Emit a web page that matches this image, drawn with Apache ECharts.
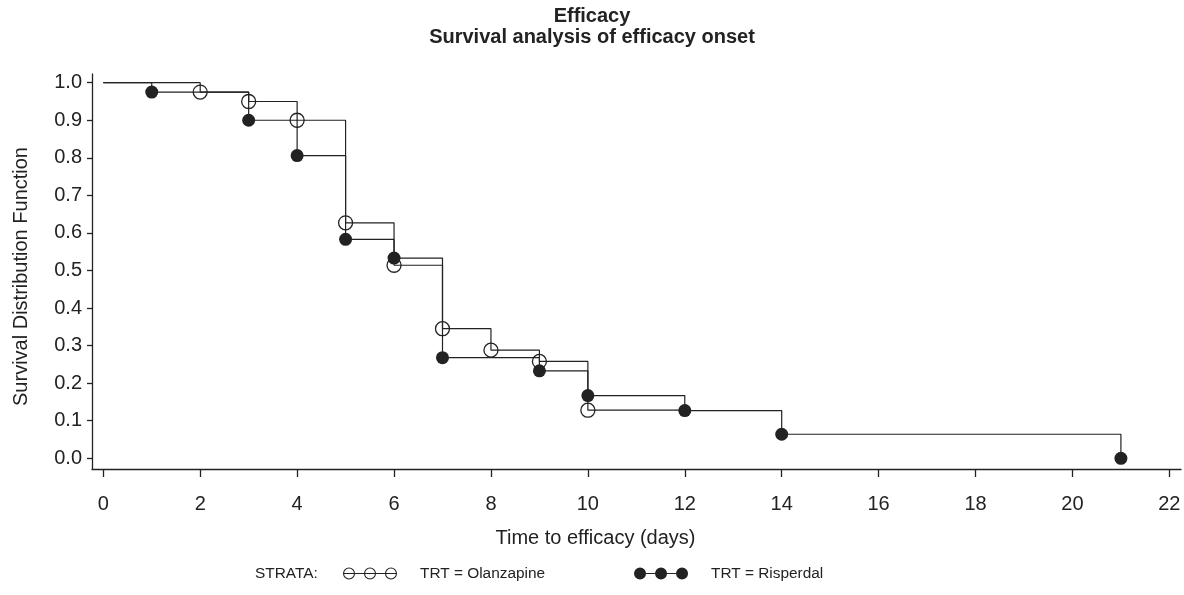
<!DOCTYPE html>
<html>
<head>
<meta charset="utf-8">
<script src="https://cdn.jsdelivr.net/npm/echarts@6/dist/echarts.min.js"></script>
<style>
  html, body { margin: 0; padding: 0; background: #fff; }
  #chart { width: 1184px; height: 595px; }
</style>
</head>
<body>
<div id="chart"></div>
<script>
// Kaplan-Meier estimates
const olzTimes = [0, 2, 3, 4, 5, 6, 7, 8, 9, 10, 12]
const olzSurv = [1, 0.975, 0.95, 0.9, 0.627, 0.514, 0.345, 0.288, 0.258, 0.128, 0.128]
const risTimes = [0, 1, 3, 4, 5, 6, 7, 9, 10, 12, 14, 21]
const risSurv = [1, 0.975, 0.9, 0.806, 0.583, 0.533, 0.268, 0.233, 0.167, 0.127, 0.064, 0]

const xTicks = [0, 2, 4, 6, 8, 10, 12, 14, 16, 18, 20, 22]
const yTicks = [0, 0.1, 0.2, 0.3, 0.4, 0.5, 0.6, 0.7, 0.8, 0.9, 1.0]

const ink = '#222'
const font = 'Liberation Sans'

const olzData = olzTimes.map((t, i) => [t, olzSurv[i]])
const risData = risTimes.map((t, i) => [t, risSurv[i]])

// legend glyphs: three circles strung on a line
const ring = (cx) => `M${cx - 6} 6 A6 6 0 1 1 ${cx + 6} 6 A6 6 0 1 1 ${cx - 6} 6 Z ` +
  `M${cx - 4.9} 6 A4.9 4.9 0 1 0 ${cx + 4.9} 6 A4.9 4.9 0 1 0 ${cx - 4.9} 6 Z `
const dot = (cx) => `M${cx - 6} 6 A6 6 0 1 1 ${cx + 6} 6 A6 6 0 1 1 ${cx - 6} 6 Z `
const bar = 'M0 5.5 L54 5.5 L54 6.5 L0 6.5 Z'
const olzIcon = 'path://' + ring(6) + ring(27) + ring(48) + bar
const risIcon = 'path://' + dot(6) + dot(27) + dot(48) + bar

const chart = echarts.init(document.getElementById('chart'))

chart.setOption({
  animation: false,
  backgroundColor: '#fff',
  textStyle: { fontFamily: font, color: ink },
  title: {
    text: 'Efficacy\nSurvival analysis of efficacy onset',
    left: 'center',
    top: 1,
    textStyle: { fontFamily: font, fontSize: 20, fontWeight: 'bold', color: ink, lineHeight: 21 }
  },
  grid: { left: 92, right: 3, top: 74, bottom: 126 },
  xAxis: {
    type: 'value',
    min: -0.233,
    max: 22.24,
    name: 'Time to efficacy (days)',
    nameLocation: 'middle',
    nameGap: 59,
    nameTextStyle: { fontSize: 20, color: ink, padding: [0, 82, 0, 0] },
    axisLine: { onZero: false, lineStyle: { color: ink, width: 1.3 } },
    axisTick: { customValues: xTicks, length: 8, lineStyle: { color: ink, width: 1.3 } },
    axisLabel: { customValues: xTicks, margin: 25, fontSize: 20, color: ink },
    splitLine: { show: false }
  },
  yAxis: {
    type: 'value',
    min: -0.0285,
    max: 1.0232,
    name: 'Survival Distribution Function',
    nameLocation: 'middle',
    nameGap: 61,
    nameTextStyle: { fontSize: 20, color: ink, padding: [0, 10, 0, 0] },
    axisLine: { show: true, onZero: false, lineStyle: { color: ink, width: 1.3 } },
    axisTick: { show: true, customValues: yTicks, length: 5, lineStyle: { color: ink, width: 1.3 } },
    axisLabel: { customValues: yTicks, margin: 10, fontSize: 20, color: ink, formatter: v => v.toFixed(1) },
    splitLine: { show: false }
  },
  legend: {
    left: 343,
    top: 566,
    padding: 0,
    itemWidth: 54,
    itemHeight: 12,
    itemGap: 89,
    textStyle: { fontSize: 15.4, color: ink, padding: [0, 0, 0, 18] },
    data: [
      { name: 'TRT = Olanzapine', icon: olzIcon, itemStyle: { color: ink, borderWidth: 0 } },
      { name: 'TRT = Risperdal', icon: risIcon, itemStyle: { color: ink, borderWidth: 0 } }
    ]
  },
  graphic: [
    {
      type: 'text',
      left: 255,
      top: 566,
      style: { text: 'STRATA:', fontFamily: font, fontSize: 15.4, fill: ink }
    }
  ],
  series: [
    {
      name: 'TRT = Olanzapine',
      type: 'line',
      step: 'end',
      data: olzData,
      symbol: (v, p) => (p.dataIndex === 0 || p.dataIndex === olzData.length - 1) ? 'none' : 'circle',
      symbolSize: 14,
      lineStyle: { color: ink, width: 1.2 },
      itemStyle: { color: 'rgba(0,0,0,0)', borderColor: ink, borderWidth: 1.3 },
      z: 2
    },
    {
      name: 'TRT = Risperdal',
      type: 'line',
      step: 'end',
      data: risData,
      symbol: (v, p) => p.dataIndex === 0 ? 'none' : 'circle',
      symbolSize: 13,
      lineStyle: { color: ink, width: 1.2 },
      itemStyle: { color: ink, borderWidth: 0 },
      z: 3
    }
  ]
})
</script>
</body>
</html>
